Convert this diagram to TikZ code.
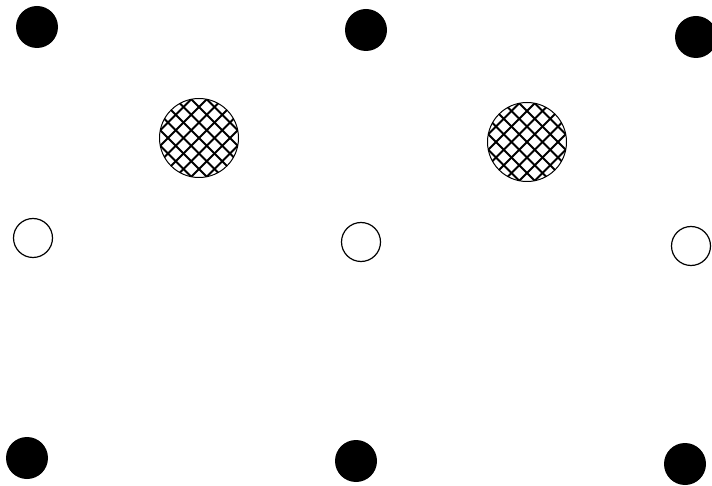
\documentclass[tikz,border=0pt]{standalone}
\usepackage{tikz}

\begin{document}
\begin{tikzpicture}[
  x=1pt, y=-1pt,
  site/.style={circle, fill=black, inner sep=0pt, minimum size=42pt},
  vacancy/.style={circle, draw, line width=1.2pt, inner sep=0pt, minimum size=39pt},
  hatched/.style={circle, draw, line width=1pt, inner sep=0pt, minimum size=79pt,
    path picture={
      \foreach \k in {-6,...,6} {
        \draw[line width=1.9pt, shift={(path picture bounding box.center)}]
          (\k*15.5pt-50pt,-50pt) -- (\k*15.5pt+50pt,50pt);
        \draw[line width=1.9pt, shift={(path picture bounding box.center)}]
          (\k*15.5pt-50pt,50pt) -- (\k*15.5pt+50pt,-50pt);
      }
    }}
]
\useasboundingbox (0,0) rectangle (712,486);

% top row
\node[site] (t1) at (37,27) {};
\node[site] (t2) at (366,30) {};
\node[site] (t3) at (696,37) {};

% interstitials
\node[hatched] (h1) at (199,138) {};
\node[hatched] (h2) at (527,142) {};

% middle row
\node[vacancy] (m1) at (33,238) {};
\node[vacancy] (m2) at (361,242) {};
\node[vacancy] (m3) at (691,246) {};

% bottom row
\node[site] (b1) at (27,458) {};
\node[site] (b2) at (356,461) {};
\node[site] (b3) at (685,464) {};
\end{tikzpicture}
\end{document}
